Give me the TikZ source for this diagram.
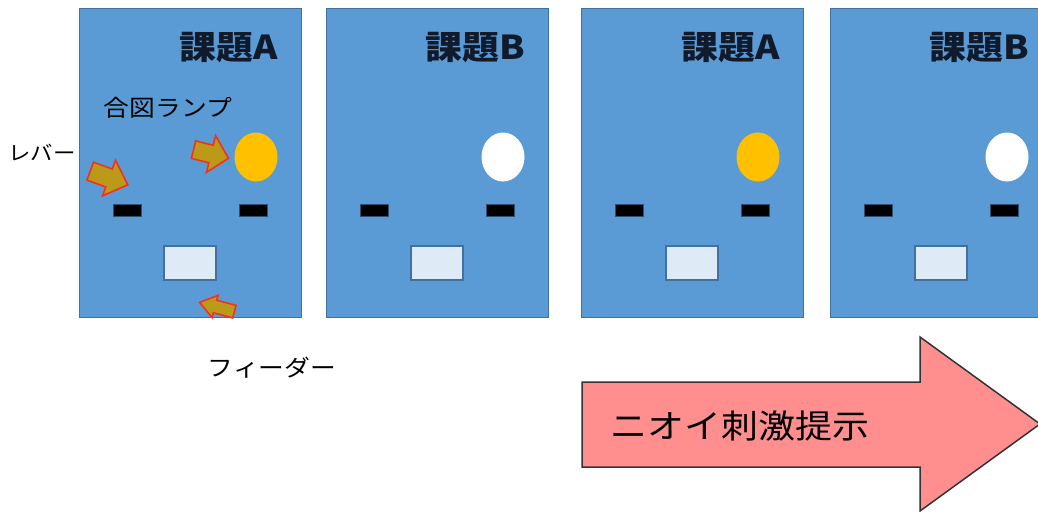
\documentclass[tikz,border=0pt]{standalone}
\usepackage{fontspec}
\usetikzlibrary{shapes.geometric}
\newfontfamily\jp[FakeStretch=1.12]{Noto Sans CJK JP}
\definecolor{panelfill}{HTML}{5B9BD5}
\definecolor{panelborder}{HTML}{41719C}
\definecolor{feederfill}{HTML}{DEEBF7}
\definecolor{lampon}{HTML}{FFC000}
\definecolor{bigpink}{HTML}{FF8F8F}
\definecolor{pointerfill}{HTML}{BA9A18}
\definecolor{pointerred}{HTML}{F5301E}
\definecolor{titlecolor}{HTML}{101A2A}
\definecolor{leverborder}{HTML}{2F4F70}
\begin{document}
\begin{tikzpicture}[x=1pt,y=-1pt,
  panel/.style={draw=panelborder, line width=1.2pt, fill=panelfill, inner sep=0pt,
    minimum width=222pt, minimum height=309pt, anchor=north west},
  lever/.style={draw=leverborder, line width=1pt, fill=black, minimum width=28pt, minimum height=12pt, inner sep=0pt},
  feeder/.style={draw=panelborder, line width=1.5pt, fill=feederfill, minimum width=52pt, minimum height=34pt, inner sep=0pt},
  lamp/.style={ellipse, minimum width=43pt, minimum height=49pt, inner sep=0pt, fill=#1},
  title/.style={font=\jp\bfseries\fontsize{33}{33}\selectfont, text=titlecolor, anchor=east, inner sep=0pt},
  lbl/.style={inner sep=0pt, text=black},
  pointer/.style={draw=pointerred, line width=1.6pt, fill=pointerfill, line join=miter},
  bigarrow/.style={draw=black!80, line width=1.5pt, fill=bigpink}]
\useasboundingbox (0,0) rectangle (1038,511);
\clip (0,0) rectangle (1038,511);
\fill[white] (0,0) rectangle (1038,511);
\foreach \i/\lx/\ttl/\lc in {1/79/A/lampon, 2/326/B/white, 3/581/A/lampon, 4/830/B/white} {
  \node[panel] (p\i) at (\lx,8) {};
  \node[title] (t\i) at (\lx+199,48) {課題\ttl};
  \node[lamp=\lc] (lamp\i) at (\lx+177,157) {};
  \node[lever] (ll\i) at (\lx+48.5,210.5) {};
  \node[lever] (lr\i) at (\lx+174.5,210.5) {};
  \node[feeder] (f\i) at (\lx+111,263) {};
}
% pointer arrows
\draw[pointer, shift={(109,178)}, rotate=-20] (-20,9.5) -- (0,9.5) -- (0,19) -- (20,0) -- (0,-19) -- (0,-9.5) -- (-20,-9.5) -- cycle;
\draw[pointer, shift={(211,154)}, rotate=-14] (-18,9) -- (0,9) -- (0,19) -- (18,0) -- (0,-19) -- (0,-9) -- (-18,-9) -- cycle;
\draw[pointer, shift={(217,307)}, rotate=165] (-18,6.5) -- (2,6.5) -- (2,11.5) -- (18,0) -- (2,-11.5) -- (2,-6.5) -- (-18,-6.5) -- cycle;
% labels
\node[lbl, font=\jp\fontsize{20}{20}\selectfont] (lblLever) at (42,152) {レバー};
\node[lbl, font=\jp\fontsize{23}{23}\selectfont] (lblLamp) at (168,108) {合図ランプ};
\node[lbl, font=\jp\fontsize{23}{23}\selectfont] (lblFeeder) at (272,368) {フィーダー};
% big arrow
\draw[bigarrow] (582,382) -- (920,382) -- (920,337) -- (1040,424) -- (920,511) -- (920,467) -- (582,467) -- cycle;
\node[lbl, font=\jp\fontsize{33}{33}\selectfont] (smell) at (740,426) {ニオイ刺激提示};
\end{tikzpicture}
\end{document}
